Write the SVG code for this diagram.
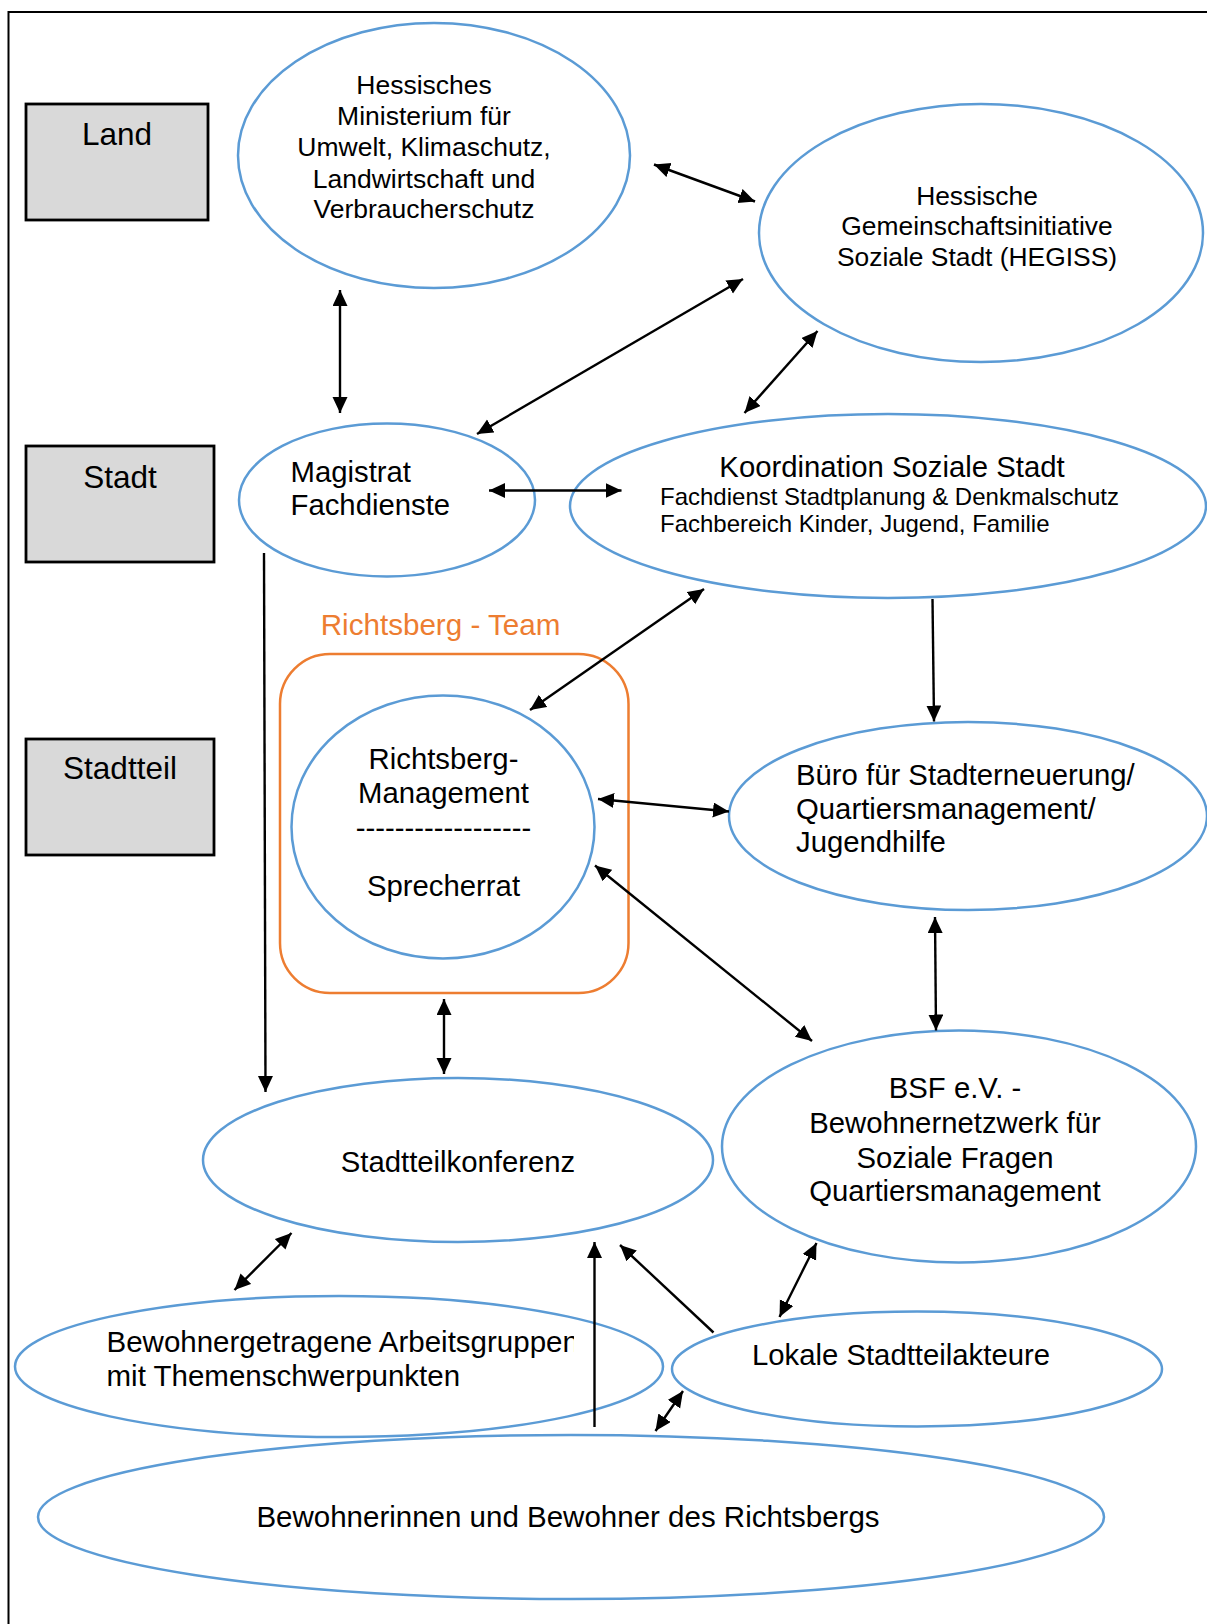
<svg xmlns="http://www.w3.org/2000/svg" width="1207" height="1624" viewBox="0 0 1207 1624">
<style>
  .ell{fill:none;stroke:#5B9BD5;stroke-width:2.5}
  .lvl{fill:#D9D9D9;stroke:#000;stroke-width:2.8}
  .t{font-family:"Liberation Sans",Arial,sans-serif;fill:#000}
  .m{font-size:29.3px}
  .c{text-anchor:middle}
  .con line{stroke:#000;stroke-width:2.4}
  .bi{marker-start:url(#ah);marker-end:url(#ah)}
  .one{marker-end:url(#ah)}
</style>
<defs>
  <marker id="ah" markerUnits="userSpaceOnUse" markerWidth="17" markerHeight="16" refX="16" refY="7.5" orient="auto-start-reverse">
    <path d="M0,0 L16,7.5 L0,15 z" fill="#000"/>
  </marker>
  <clipPath id="clipAG"><rect x="0" y="1300" width="574" height="120"/></clipPath>
</defs>
<rect width="1207" height="1624" fill="#fff"/>
<rect x="8.5" y="12" width="1300" height="1700" fill="none" stroke="#000" stroke-width="2"/>

<g id="level-land">
  <rect class="lvl" x="26" y="104" width="182" height="116"/>
  <text class="t c" x="117" y="145" font-size="31.5">Land</text>
</g>
<g id="level-stadt">
  <rect class="lvl" x="26" y="446" width="188" height="116"/>
  <text class="t c" x="120" y="488" font-size="31.5">Stadt</text>
</g>
<g id="level-stadtteil">
  <rect class="lvl" x="26" y="739" width="188" height="116"/>
  <text class="t c" x="120" y="779" font-size="31.5">Stadtteil</text>
</g>

<g id="ministerium">
  <ellipse class="ell" cx="434" cy="155.5" rx="196" ry="132.5"/>
  <text class="t c" x="424" y="94" font-size="26.5">Hessisches</text>
  <text class="t c" x="424" y="125" font-size="26.5">Ministerium für</text>
  <text class="t c" x="424" y="156" font-size="26.5">Umwelt, Klimaschutz,</text>
  <text class="t c" x="424" y="187.5" font-size="26.5">Landwirtschaft und</text>
  <text class="t c" x="424" y="218" font-size="26.5">Verbraucherschutz</text>
</g>

<g id="hegiss">
  <ellipse class="ell" cx="981" cy="233" rx="222" ry="129"/>
  <text class="t c" x="977" y="204.5" font-size="26.4">Hessische</text>
  <text class="t c" x="977" y="235" font-size="26.4">Gemeinschaftsinitiative</text>
  <text class="t c" x="977" y="266" font-size="26.4">Soziale Stadt (HEGISS)</text>
</g>

<g id="magistrat">
  <ellipse class="ell" cx="387" cy="500" rx="148" ry="76.5"/>
  <text class="t m" x="290.5" y="482">Magistrat</text>
  <text class="t m" x="290.5" y="515">Fachdienste</text>
</g>

<g id="koordination">
  <ellipse class="ell" cx="888" cy="506" rx="318" ry="92"/>
  <text class="t c m" x="892" y="476.5">Koordination Soziale Stadt</text>
  <text class="t" x="660" y="504.5" font-size="24">Fachdienst Stadtplanung &amp; Denkmalschutz</text>
  <text class="t" x="660" y="532" font-size="24">Fachbereich Kinder, Jugend, Familie</text>
</g>

<g id="richtsberg-team">
  <text class="t c" x="440.5" y="635" font-size="29.6" style="fill:#ED7D31">Richtsberg - Team</text>
  <rect x="280" y="654" width="348.5" height="339" rx="50" ry="50" fill="none" stroke="#ED7D31" stroke-width="2.5"/>
</g>

<g id="richtsberg-management">
  <ellipse class="ell" cx="443" cy="827" rx="151.5" ry="131.5"/>
  <text class="t c m" x="443.5" y="769">Richtsberg-</text>
  <text class="t c m" x="443.5" y="803">Management</text>
  <text class="t c m" x="443.5" y="838">------------------</text>
  <text class="t c m" x="443.5" y="896">Sprecherrat</text>
</g>

<g id="buero">
  <ellipse class="ell" cx="968" cy="816" rx="239" ry="94"/>
  <text class="t m" x="796" y="785">Büro für Stadterneuerung/</text>
  <text class="t m" x="796" y="818.5">Quartiersmanagement/</text>
  <text class="t m" x="796" y="851.5">Jugendhilfe</text>
</g>

<g id="bsf">
  <ellipse class="ell" cx="959" cy="1146.5" rx="237" ry="116"/>
  <text class="t c m" x="955" y="1098">BSF e.V. -</text>
  <text class="t c m" x="955" y="1133">Bewohnernetzwerk für</text>
  <text class="t c m" x="955" y="1167.5">Soziale Fragen</text>
  <text class="t c m" x="955" y="1200.5">Quartiersmanagement</text>
</g>

<g id="stadtteilkonferenz">
  <ellipse class="ell" cx="458" cy="1160" rx="255" ry="82"/>
  <text class="t c m" x="458" y="1172">Stadtteilkonferenz</text>
</g>

<g id="arbeitsgruppen">
  <ellipse class="ell" cx="339" cy="1366.5" rx="324" ry="70.5"/>
  <g clip-path="url(#clipAG)">
    <text class="t" x="106.5" y="1352" font-size="29.5">Bewohnergetragene Arbeitsgruppen</text>
    <text class="t" x="106.5" y="1385.5" font-size="29.5">mit Themenschwerpunkten</text>
  </g>
</g>

<g id="lokale-akteure">
  <ellipse class="ell" cx="917" cy="1369" rx="245" ry="57.5"/>
  <text class="t c m" x="901" y="1365">Lokale Stadtteilakteure</text>
</g>

<g id="bewohner">
  <ellipse class="ell" cx="571" cy="1517" rx="533" ry="82"/>
  <text class="t c" x="568" y="1527" font-size="29.5">Bewohnerinnen und Bewohner des Richtsbergs</text>
</g>

<g id="connectors" class="con">
  <line class="bi" x1="340" y1="290" x2="340" y2="413"/>
  <line class="bi" x1="654" y1="164.5" x2="755" y2="201.5"/>
  <line class="bi" x1="477" y1="434" x2="743" y2="279"/>
  <line class="bi" x1="817.5" y1="331" x2="744.5" y2="413"/>
  <line class="bi" x1="489" y1="490.5" x2="621.5" y2="490.5"/>
  <line class="one" x1="264" y1="553" x2="265.5" y2="1092"/>
  <line class="bi" x1="704" y1="589" x2="530" y2="710"/>
  <line class="one" x1="932.5" y1="599" x2="934" y2="721.5"/>
  <line class="bi" x1="598" y1="799" x2="729" y2="811.5"/>
  <line class="bi" x1="595" y1="865.5" x2="812" y2="1041"/>
  <line class="bi" x1="935" y1="917" x2="936" y2="1030.5"/>
  <line class="bi" x1="444" y1="999" x2="444" y2="1074"/>
  <line class="bi" x1="291.5" y1="1233" x2="234.5" y2="1290"/>
  <line class="one" x1="594.5" y1="1427" x2="594.5" y2="1242"/>
  <line class="one" x1="713.5" y1="1332.5" x2="620" y2="1245"/>
  <line class="bi" x1="816.5" y1="1243" x2="779.5" y2="1317"/>
  <line class="bi" x1="683" y1="1391" x2="655.5" y2="1431"/>
</g>
</svg>
